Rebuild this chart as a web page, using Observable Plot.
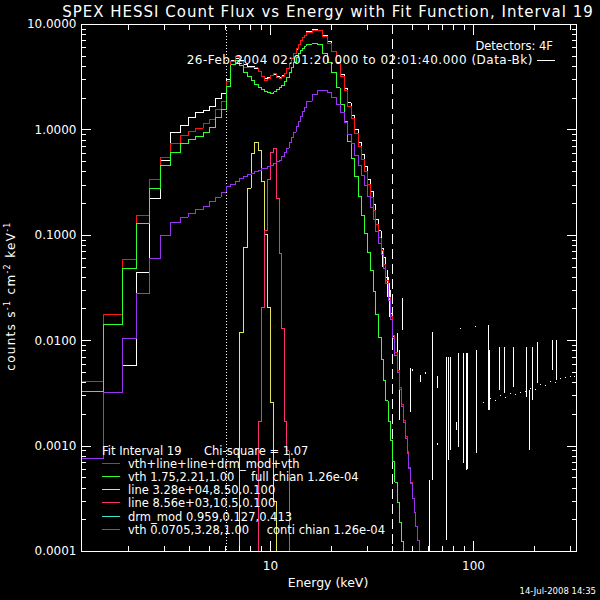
<!DOCTYPE html>
<html><head><meta charset="utf-8">
<script src="https://cdn.jsdelivr.net/npm/d3@7"></script>
<script src="https://cdn.jsdelivr.net/npm/@observablehq/plot@0.6"></script>
<style>
html,body{margin:0;padding:0;background:#000;}
#chart{width:600px;height:600px;background:#000;}
svg text{font-family:"DejaVu Sans",sans-serif;}
</style></head><body><div id="chart"></div>
<script>
// ---- energy bin edges (keV) ----
const edges = [1.172, 1.51, 1.86, 2.19, 2.54, 2.88, 3.23, 3.60, 3.93, 4.29, 4.66, 5.02, 5.38, 5.71, 6.04,
  6.37, 6.71, 7.04, 7.37, 7.71, 8.04, 8.37, 8.71, 9.04, 9.37, 9.71, 10.04, 10.37, 10.71, 11.04, 11.37, 11.71,
  12.04, 12.37, 12.71, 13.04, 13.37, 13.71, 14.04, 14.37, 14.71, 15.04,
  16.04, 17.04, 18.04, 19.04, 20.04, 21.04, 22.04, 23.04, 24.04, 25.04, 26.04, 27.04, 28.04, 29.04, 30.04,
  31.04, 32.04, 33.04, 34.04, 35.04, 36.04, 37.04, 38.04, 39.04, 40.04, 41.04, 42.04, 43.04, 44.04, 45.04,
  46.04, 47.04, 48.04, 49.04, 50.04, 51.04, 52.04, 53.04, 54.04, 55.04, 56.04];

// ---- series (counts s^-1 cm^-2 keV^-1), one value per bin ----
const dataBk = [0.0033, 0.0032, 0.00582, 0.044, 0.222, 0.507, 0.95, 1.10, 1.32, 1.47, 1.53, 1.67, 1.97, 2.20,
  3.0, 4.45, 4.75, 4.55, 4.15, 4.0, 4.0, 3.85, 3.55, 3.2, 3.1, 3.15, 3.3, 3.35, 3.2, 3.15, 3.25, 3.45, 3.85, 4.3, 4.8, 5.3, 5.85, 6.45, 7.0, 7.55, 7.95,
  8.5, 8.95, 8.75, 7.95, 6.9, 5.6, 4.4, 3.35, 2.45, 1.8, 1.36, 1.0, 0.76, 0.58, 0.45, 0.34, 0.26, 0.195, 0.14, 0.11, 0.075, 0.062, 0.04, 0.03, 0.018, 0.011,
  null, null, null, null, null, null, null, null, null, null, null, null, null, null, null];
const totalFit = [0.0041, 0.0176, 0.0586, 0.154, 0.336, 0.55, 0.742, 0.89, 0.975, 1.04, 1.14, 1.255, 1.56, 1.84,
  2.87, 4.43, 4.92, 4.44, 3.91, 3.87, 3.93, 3.87, 3.58, 3.19, 2.96, 3.05, 3.30, 3.44, 3.12, 3.09, 3.19, 3.46, 3.81, 4.27, 4.76, 5.32, 5.94, 6.51, 7.00, 7.48, 7.88,
  8.41, 8.82, 8.77, 7.74, 6.67, 5.53, 4.24, 3.21, 2.37, 1.67, 1.27, 0.931, 0.691, 0.524, 0.402, 0.302, 0.230, 0.171, 0.127, 0.0944,
  0.0725, 0.0526, 0.0376, 0.0258, 0.0170, 0.0113, 0.00769, 0.00523, 0.00363, 0.00250, 0.00176, 0.00124, 0.00088, 0.00062, 0.00045,
  0.00032, 0.000235, 0.000174, 0.000128, 0.00009, 0.00006];
const vthHot = [0.0033, 0.0142, 0.0481, 0.1285, 0.276, 0.459, 0.614, 0.748, 0.805, 0.866, 0.951, 1.047, 1.30, 1.55,
  2.58, 4.13, 4.60, 4.08, 3.47, 3.21, 2.94, 2.70, 2.53, 2.42, 2.31, 2.24, 2.23, 2.29, 2.40, 2.50, 2.62, 2.85, 3.14, 3.51, 3.91, 4.36, 4.86, 5.31, 5.66, 5.98, 6.25,
  6.53, 6.65, 6.40, 5.35, 4.4, 3.5, 2.5, 1.75, 1.2, 0.77, 0.53, 0.36, 0.232, 0.155, 0.105, 0.069, 0.046, 0.0295, 0.0177, 0.0108,
  0.00667, 0.00419, 0.00268, 0.00173, 0.00112, 0.00072, 0.000456, 0.000292, 0.000189, 0.000124, 0.00008,
  null, null, null, null, null, null, null, null, null, null];
const vthCool = [0.00077, 0.0032, 0.0104, 0.0279, 0.0598, 0.0995, 0.133, 0.149, 0.160, 0.175, 0.188, 0.209, 0.230, 0.257,
  0.290, 0.303, 0.324, 0.346, 0.361, 0.377, 0.390, 0.403, 0.412, 0.426, 0.435, 0.450, 0.460, 0.480, 0.496, 0.518, 0.560, 0.611, 0.673, 0.759, 0.847, 0.955, 1.08, 1.20, 1.34, 1.50, 1.63,
  1.88, 2.17, 2.37, 2.39, 2.27, 2.03, 1.74, 1.46, 1.17, 0.904, 0.743, 0.571, 0.459, 0.369, 0.297, 0.233, 0.184, 0.141, 0.109, 0.0836,
  0.0658, 0.0484, 0.0349, 0.0241, 0.0159, 0.0106, 0.00723, 0.00494, 0.00344, 0.00238, 0.00168, 0.00119, 0.00085, 0.000607, 0.000442,
  0.000318, 0.000232, 0.000172, 0.000127, 0.00009, 0.00006];
const line1Start = 16;   // Fe line ~8.5 keV
const line1 = [0.000001, 0.012, 0.077, 0.281, 0.601, 0.767, 0.638, 0.324, 0.102, 0.0208, 0.0026, 0.0003, 0.000001];
const line2Start = 21;   // line ~10.5 keV
const line2 = [0.000001, 0.0017, 0.0208, 0.111, 0.338, 0.61, 0.667, 0.223, 0.067, 0.013, 0.0017, 0.0009, 0.000001];

// ---- noisy high-energy data: error bars and points ----
const errE  = [35.7, 37.6, 38.7, 40.1, 42.1, 43.4, 44.6, 48.9, 54.8, 60.7, 63.0, 66.3, 73.4, 75.1, 77.0, 82.2, 84.1, 89.6, 92.4, 93.0, 93.7, 103.5, 118.1, 120.2, 134.8, 142.1, 158.0, 182.4, 189.4, 194.6, 206.0, 244.2, 255.6];
const errLo = [0.0498, 0.0259, 0.0167, 0.00807, 0.00561, 0.00175, 0.0125, 0.00208, 0.00404, 0.00005, 0.000472, 0.00352, 0.000127, 0.00073, 0.00091, 0.00141, 0.00098, 0.00068, 0.00059, 0.0006, 0.0009, 0.00085, 0.00218, 0.00218, 0.00337, 0.00313, 0.00362, 0.00291, 0.00091, 0.00271, 0.0039, 0.00521, 0.00419];
const errHi = [0.0718, 0.0463, 0.0349, 0.0208, 0.0117, 0.00807, 0.0251, 0.00545, 0.00468, 0.000472, 0.01205, 0.00457, 0.00697, 0.00697, 0.00697, 0.00169, 0.00752, 0.00752, 0.00752, 0.00752, 0.00752, 0.00807, 0.0139, 0.00807, 0.00867, 0.00867, 0.00867, 0.00867, 0.00337, 0.00867, 0.00968, 0.0100, 0.0100];
const ptE = [49.9, 58.0, 66.3, 86.3, 102.3, 112.0, 121.3, 128.3, 135.8, 143.8, 152.2, 161.0, 170.4, 180.4, 190.9, 202.0, 213.8, 226.3, 239.4, 253.5, 268.3, 283.9, 300.5, 314.5];
const ptV = [0.00529, 0.00491, 0.00105, 0.013, 0.0136, 0.00259, 0.00283, 0.00271, 0.00302, 0.00289, 0.00316, 0.00309, 0.00323, 0.0033, 0.00352, 0.00344, 0.00384, 0.00375, 0.0041, 0.004, 0.00438, 0.00448, 0.00459, 0.00459];

// ---- axes ----
const xMajor = [10, 100];
const xMinor = [2, 3, 4, 5, 6, 7, 8, 9, 20, 30, 40, 50, 60, 70, 80, 90, 200, 300];
const yMajor = [0.0001, 0.001, 0.01, 0.1, 1, 10];
const yMinor = [2e-4, 3e-4, 4e-4, 5e-4, 6e-4, 7e-4, 8e-4, 9e-4, 2e-3, 3e-3, 4e-3, 5e-3, 6e-3, 7e-3, 8e-3, 9e-3,
  0.02, 0.03, 0.04, 0.05, 0.06, 0.07, 0.08, 0.09, 0.2, 0.3, 0.4, 0.5, 0.6, 0.7, 0.8, 0.9, 2, 3, 4, 5, 6, 7, 8, 9];
const fitRange = [6.04, 40.04];

// ---- legend ----
const legendColors = ["#ff1414", "#30ff30", "#e6e65a", "#ff2d7a", "#40e6d2", "#9a34ee"];
const legendText = ["vth+line+line+drm_mod+vth", "vth 1.75,2.21,1.00", "line 3.28e+04,8.50,0.100",
  "line 8.56e+03,10.5,0.100", "drm_mod 0.959,0.127,0.413", "vth 0.0705,3.28,1.00"];
const legendExtra = ["", "full chian 1.26e-04", "", "", "", "conti chian 1.26e-04"];

function steps(vals, start = 0) {
  const pts = [];
  for (let i = 0; i < vals.length; i++) {
    const v = vals[i];
    if (v == null) continue;
    const k = start + i;
    pts.push({x: edges[k], y: v});
    if (i === vals.length - 1 || vals[i + 1] == null) pts.push({x: edges[k + 1], y: v});
  }
  return pts;
}
const errs = errE.map((e, i) => ({e, lo: errLo[i], hi: errHi[i]}));
const pts = ptE.map((e, i) => ({e, v: ptV[i]}));

const C = legendColors;
const lineOpt = (c) => ({x: "x", y: "y", curve: "step-after", stroke: c, strokeWidth: 1, clip: true});
const chart = Plot.plot({
  width: 600, height: 600,
  marginLeft: 81, marginRight: 24, marginTop: 24, marginBottom: 49,
  style: {background: "#000", color: "#fff", fontFamily: "DejaVu Sans, sans-serif", fontSize: "12px"},
  x: {type: "log", domain: [1.172, 321.7], axis: null},
  y: {type: "log", domain: [1e-4, 10], axis: null},
  marks: [
    Plot.ruleX([fitRange[0]], {stroke: "#fff", strokeDasharray: "1,2"}),
    Plot.ruleX([fitRange[1]], {stroke: "#fff", strokeDasharray: "10,5"}),
    Plot.line(steps(dataBk), lineOpt("#fff")),
    Plot.ruleX(errs, {x: "e", y1: "lo", y2: "hi", stroke: "#fff", clip: true}),
    Plot.dot(pts, {x: "e", y: "v", r: 0.8, fill: "#fff", stroke: null, clip: true}),
    Plot.line(steps(totalFit), lineOpt(C[0])),
    Plot.line(steps(vthHot), lineOpt(C[1])),
    Plot.line(steps(line1, line1Start), lineOpt(C[2])),
    Plot.line(steps(line2, line2Start), lineOpt(C[3])),
    Plot.line(steps(vthCool), lineOpt(C[5])),
    Plot.frame({stroke: "#fff"}),
    Plot.axisX(xMajor, {anchor: "bottom", tickSize: -10, tickPadding: 20, tickFormat: d => String(d), fontSize: 12, label: null}),
    Plot.axisX(xMinor, {anchor: "bottom", tickSize: -5, tickFormat: () => "", label: null}),
    Plot.axisX(xMajor, {anchor: "top", tickSize: -10, tickFormat: () => "", label: null}),
    Plot.axisX(xMinor, {anchor: "top", tickSize: -5, tickFormat: () => "", label: null}),
    Plot.axisY(yMajor, {anchor: "left", tickSize: -10, tickPadding: 15, tickFormat: d => d.toFixed(4), fontSize: 12, label: null}),
    Plot.axisY(yMinor, {anchor: "left", tickSize: -5, tickFormat: () => "", label: null}),
    Plot.axisY(yMajor, {anchor: "right", tickSize: -10, tickFormat: () => "", label: null}),
    Plot.axisY(yMinor, {anchor: "right", tickSize: -5, tickFormat: () => "", label: null})
  ]
});
chart.setAttribute("shape-rendering", "crispEdges");
document.getElementById("chart").appendChild(chart);

// ---- texts ----
const svg = d3.select(chart);
function T(x, y, s, o = {}) {
  return svg.append("text").attr("x", x).attr("y", y).attr("fill", o.fill || "#fff")
    .attr("font-size", o.size || 12).attr("text-anchor", o.anchor || "start")
    .attr("letter-spacing", o.ls || 0).style("font-family", "DejaVu Sans, sans-serif").text(s);
}
T(328, 17, "SPEX HESSI Count Flux vs Energy with Fit Function, Interval 19", {size: 15, anchor: "middle", ls: 1});
T(553, 50, "Detectors: 4F", {size: 11.5, anchor: "end"});
T(533, 64, "26-Feb-2004 02:01:20.000 to 02:01:40.000 (Data-Bk)", {size: 12, anchor: "end", ls: 0.5});
svg.append("line").attr("x1", 537).attr("x2", 555).attr("y1", 60.5).attr("y2", 60.5).attr("stroke", "#fff");
T(328, 586.5, "Energy (keV)", {size: 12.5, anchor: "middle"});
T(596, 594, "14-Jul-2008 14:35", {size: 8.5, anchor: "end"});

const yl = svg.append("text").attr("transform", "translate(15,296) rotate(-90)").attr("text-anchor", "middle")
  .attr("fill", "#fff").attr("font-size", 12).attr("letter-spacing", 1.3)
  .style("font-family", "DejaVu Sans, sans-serif");
yl.append("tspan").text("counts s");
yl.append("tspan").attr("dy", -5).attr("font-size", 8).text("-1");
yl.append("tspan").attr("dy", 5).text(" cm");
yl.append("tspan").attr("dy", -5).attr("font-size", 8).text("-2");
yl.append("tspan").attr("dy", 5).text(" keV");
yl.append("tspan").attr("dy", -5).attr("font-size", 8).text("-1");

T(102, 455, "Fit Interval 19", {size: 11.5});
T(204, 455, "Chi-square = 1.07", {size: 11.5});
const rowY = [463.5, 476.5, 489.5, 502.5, 516.5, 529.5];
legendText.forEach((s, i) => {
  svg.append("line").attr("x1", 102).attr("x2", 120).attr("y1", rowY[i]).attr("y2", rowY[i]).attr("stroke", C[i]);
  T(128, rowY[i] + 4, s, {size: 11.5});
});
T(251, rowY[1] + 4, legendExtra[1], {size: 11.5});
T(266.7, rowY[5] + 4, legendExtra[5], {size: 11.5});
</script></body></html>
